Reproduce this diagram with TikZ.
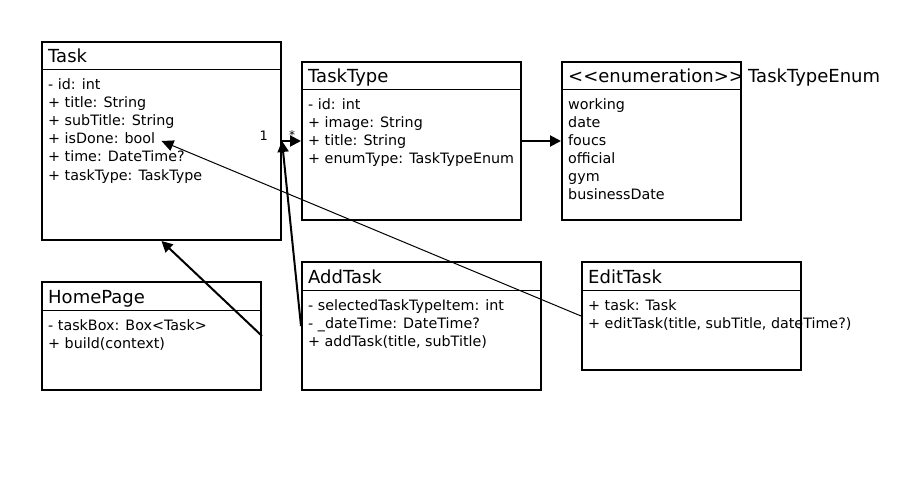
\documentclass[tikz,border=0pt]{standalone}
\usepackage{fontspec}
\setmainfont{DejaVu Sans}
\usetikzlibrary{arrows.meta,calc}
\tikzset{
  classbox/.style={draw, line width=2pt, rectangle, anchor=north west, inner sep=0pt},
  titletext/.style={anchor=base west, inner sep=0pt, font=\fontsize{18}{20}\selectfont},
  attr/.style={anchor=base west, inner sep=0pt, font=\fontsize{14.3}{18}\selectfont},
  divider/.style={line width=1pt},
  assoc/.style={line width=2pt, -{Triangle[length=11pt,width=11pt]}},
  thinassoc/.style={line width=1pt, -{Triangle[length=12pt,width=11pt]}},
  mult/.style={inner sep=0pt, font=\fontsize{13}{15}\selectfont}
}
\begin{document}
\begin{tikzpicture}[x=1pt,y=-1pt]
\useasboundingbox (0,0) rectangle (900,500);
% boxes
\node[classbox, minimum width=239pt, minimum height=198pt] (task) at (41,41) {};
\node[classbox, minimum width=219pt, minimum height=158pt] (tasktype) at (301,61) {};
\node[classbox, minimum width=179pt, minimum height=158pt] (enum) at (561,61) {};
\node[classbox, minimum width=219pt, minimum height=108pt] (homepage) at (41,281) {};
\node[classbox, minimum width=239pt, minimum height=128pt] (addtask) at (301,261) {};
\node[classbox, minimum width=219pt, minimum height=108pt] (edittask) at (581,261) {};
% dividers
\foreach \b in {task,tasktype,enum,homepage,addtask,edittask}
  \draw[divider] ($(\b.north west)+(0,29)$) -- ($(\b.north east)+(0,29)$);
% titles
\node[titletext] (tasktitle) at (48,63) {Task};
\node[titletext] (tasktypetitle) at (308,83) {TaskType};
\node[titletext] (enumtitle) at (568,83) {<{}<enumeration>{}>};
\node[titletext] (enumname) at (748,83) {TaskTypeEnum};
\node[titletext] (hometitle) at (48,303) {HomePage};
\node[titletext] (addtitle) at (308,283) {AddTask};
\node[titletext] (edittitle) at (588,283) {EditTask};
% attributes
\foreach \s [count=\i] in {{- id: int},{+ title: String},{+ subTitle: String},{+ isDone: bool},{+ time: DateTime?},{+ taskType: TaskType}}
  \node[attr] (taskattr\i) at (48,72+18*\i) {\s};
\foreach \s [count=\i] in {{- id: int},{+ image: String},{+ title: String},{+ enumType: TaskTypeEnum}}
  \node[attr] (ttattr\i) at (308,92+18*\i) {\s};
\foreach \s [count=\i] in {working,date,foucs,official,gym,businessDate}
  \node[attr] (enumattr\i) at (568,92+18*\i) {\s};
\foreach \s [count=\i] in {{- taskBox: Box<Task>},{+ build(context)}}
  \node[attr] (homeattr\i) at (48,312+18*\i) {\s};
\foreach \s [count=\i] in {{- selectedTaskTypeItem: int},{- \_dateTime: DateTime?},{+ addTask(title, subTitle)}}
  \node[attr] (addattr\i) at (308,292+18*\i) {\s};
\foreach \s [count=\i] in {{+ task: Task},{+ editTask(title, subTitle, dateTime?)}}
  \node[attr] (editattr\i) at (588,292+18*\i) {\s};
% connectors
\draw[assoc] (task.east) -- (tasktype.west);
\node[mult, anchor=base east] (one) at (268,141) {1};
\node[mult, anchor=base west, font=\fontsize{12}{13}\selectfont] (star) at (289,140) {*};
\draw[assoc] (tasktype.east) -- (enum.west);
\draw[assoc] (homepage.east) -- (task.south);
\draw[assoc] (addtask.west) -- (task.east);
\draw[thinassoc] (edittask.west) -- (task.center);
\end{tikzpicture}
\end{document}
